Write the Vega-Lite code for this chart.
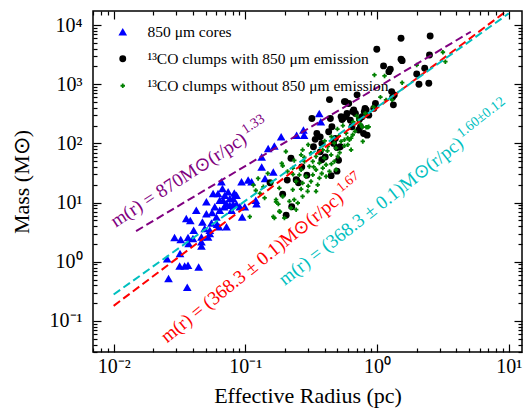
{
"$schema": "https://vega.github.io/schema/vega-lite/v6.json",
"width": 429, "height": 341,
"autosize": {"type": "none"},
"padding": {"left": 93, "top": 11, "right": 2, "bottom": 57},
"config": {"font": "Liberation Serif", "view": {"stroke": "black", "strokeWidth": 1.5}},
"datasets": {
"cores": [[0.0255,1.13],[0.0261,0.52],[0.029,2.57],[0.0323,2.37],[0.0319,1.38],[0.0317,0.85],[0.0346,0.85],[0.0367,0.87],[0.0362,0.37],[0.0356,5.4],[0.0382,5.0],[0.0367,2.57],[0.0371,2.03],[0.040,2.47],[0.0405,3.41],[0.0424,7.4],[0.0442,0.82],[0.0464,1.85],[0.0464,2.63],[0.0472,4.72],[0.0491,3.64],[0.0506,10.3],[0.0506,6.5],[0.0521,2.63],[0.0537,3.41],[0.0553,4.54],[0.0559,6.8],[0.0569,14.2],[0.0586,8.5],[0.0603,5.7],[0.061,4.3],[0.0639,7.4],[0.0639,11.0],[0.0658,22.5],[0.067,17.3],[0.0678,11.0],[0.069,8.5],[0.0698,13.3],[0.0719,3.9],[0.0719,9.6],[0.074,15.2],[0.0762,9.0],[0.0785,7.4],[0.0808,9.4],[0.0857,9.4],[0.0857,13.3],[0.0908,8.5],[0.0935,22.5],[0.0946,5.7],[0.099,8.5],[0.105,24],[0.1115,22.5],[0.12,11.0],[0.1216,9.6],[0.133,40],[0.133,59],[0.141,25.5],[0.149,82],[0.163,33],[0.166,90],[0.187,129],[0.245,138],[0.276,168],[0.279,138],[0.364,320],[0.374,232],[0.062,14.2],[0.063,3.9],[0.0537,3.0],[0.0464,2.17],[0.0762,11.7],[0.0808,11.7],[0.0824,14.5]],
"with": [[0.154,21.6],[0.192,13.9],[0.204,6.1],[0.225,8.5],[0.222,56],[0.208,24],[0.245,24],[0.253,21.6],[0.268,40],[0.293,29],[0.32,264],[0.329,88],[0.339,117],[0.349,147],[0.37,129],[0.37,72],[0.381,100],[0.381,53],[0.404,59],[0.429,157],[0.442,264],[0.454,191],[0.468,100],[0.482,121],[0.496,34],[0.51,52],[0.496,85],[0.526,88],[0.542,254],[0.55,264],[0.574,505],[0.591,320],[0.609,473],[0.627,247],[0.645,191],[0.665,366],[0.685,320],[0.705,661],[0.726,168],[0.748,191],[0.77,282],[0.79,147],[0.81,390],[0.865,300],[0.84,138],[0.944,390],[0.972,473],[0.995,3890],[1.12,2040],[1.26,1790],[1.23,1630],[1.29,750],[1.35,660],[1.31,600],[1.33,448],[1.52,5970],[1.52,2640],[1.55,2500],[2.0,1490],[2.08,1000],[2.30,1860],[2.47,1040],[2.53,6530],[2.50,3120],[0.435,550],[0.565,509],[0.826,369],[0.80,345],[0.735,257],[0.533,284],[0.582,284],[0.653,345],[0.243,24.4],[0.448,28.5]],
"without": [[0.826,188],[0.512,134],[0.582,149],[0.599,123],[0.654,140],[0.617,115],[0.533,108],[0.474,101],[0.565,91],[0.779,108],[0.272,78],[0.387,78],[0.422,89],[0.488,83],[0.635,78],[0.203,73],[0.265,64.2],[0.315,68.5],[0.344,60.2],[0.398,56.4],[0.448,64.2],[0.503,60.2],[0.235,51.5],[0.281,49.6],[0.325,49.6],[0.365,46.5],[0.41,43.6],[0.474,49.6],[0.192,41.9],[0.229,38.3],[0.265,35.9],[0.306,40.8],[0.344,35.9],[0.387,38.3],[0.435,33.6],[0.488,35.9],[0.209,33.6],[0.257,29.5],[0.289,27.7],[0.325,29.5],[0.365,26.0],[0.41,27.7],[0.243,22.8],[0.272,21.4],[0.315,22.8],[0.354,20.0],[0.181,17.6],[0.229,16.5],[0.265,16.9],[0.297,15.5],[0.344,15.5],[0.192,12.7],[0.235,11.2],[0.272,12.7],[0.171,11.2],[0.216,10.5],[0.25,9.84],[0.181,7.11],[0.222,8.1],[0.243,7.59],[0.198,5.49],[0.166,5.49],[0.108,5.77],[0.115,19.7],[0.125,25.6],[0.129,14.3],[0.137,18.5],[0.148,31.1],[0.163,5.77],[0.171,10.3],[0.178,9.43],[0.183,7.0],[0.189,45.8],[0.12,16],[0.158,22],[0.14,12],[0.70,290],[0.77,190],[0.815,320],[0.864,191],[0.94,409],[1.06,605],[1.17,544],[1.30,544],[0.955,1435],[1.14,1380],[1.55,1060],[2.0,2110],[3.16,3470],[3.30,2400],[0.85,188],[0.635,123],[0.565,115],[0.55,200],[0.66,230],[0.72,250],[0.45,130],[0.5,175],[0.4,110],[0.3,95],[0.36,70],[0.42,75],[0.28,58],[0.33,40],[0.38,31],[0.23,30],[0.3,19],[0.45,45],[0.52,70],[0.6,95],[0.68,160],[0.75,210]]
},
"layer": [
{
"data": {"name": "cores"},
"transform": [{"calculate": "datum[0]", "as": "r"}, {"calculate": "datum[1]", "as": "m"}, {"calculate": "'cores'", "as": "t"}],
"mark": {"type": "point", "filled": true, "opacity": 1},
"encoding": {
"x": {"field": "r", "type": "quantitative", "scale": {"type": "log", "domain": [0.00697, 12.6], "nice": false},
 "axis": {"orient": "bottom", "zindex": 1, "grid": false, "domain": false, "ticks": true, "tickColor": "black", "tickWidth": 1.2, "labelColor": "black", "labelFlush": false, "labelOverlap": false,
  "values": [0.007,0.008,0.009,0.01,0.02,0.03,0.04,0.05,0.06,0.07,0.08,0.09,0.1,0.2,0.3,0.4,0.5,0.6,0.7,0.8,0.9,1,2,3,4,5,6,7,8,9,10],
  "labelExpr": "datum.value == 0.01 ? '10⁻²' : datum.value == 0.1 ? '10⁻¹' : datum.value == 1 ? '10⁰' : datum.value == 10 ? '10¹' : ''",
  "tickSize": {"condition": {"test": "indexof([0.01,0.1,1,10], datum.value) >= 0", "value": -8}, "value": -4},
  "labelFontSize": 20, "labelPadding": 12, "labelBaseline": "top",
  "title": "Effective Radius (pc)", "titleFontSize": 22, "titleFontWeight": "normal", "titleColor": "black", "titleX": 214.5, "titleY": 50, "titleBaseline": "alphabetic", "titleAlign": "center"}},
"y": {"field": "m", "type": "quantitative", "scale": {"type": "log", "domain": [0.0299, 17260], "nice": false},
 "axis": {"orient": "left", "zindex": 1, "grid": false, "domain": false, "ticks": true, "tickColor": "black", "tickWidth": 1.2, "labelColor": "black", "labelFlush": false, "labelOverlap": false,
  "values": [0.03,0.04,0.05,0.06,0.07,0.08,0.09,0.1,0.2,0.3,0.4,0.5,0.6,0.7,0.8,0.9,1,2,3,4,5,6,7,8,9,10,20,30,40,50,60,70,80,90,100,200,300,400,500,600,700,800,900,1000,2000,3000,4000,5000,6000,7000,8000,9000,10000],
  "labelExpr": "datum.value == 0.1 ? '10⁻¹' : datum.value == 1 ? '10⁰' : datum.value == 10 ? '10¹' : datum.value == 100 ? '10²' : datum.value == 1000 ? '10³' : datum.value == 10000 ? '10⁴' : ''",
  "tickSize": {"condition": {"test": "indexof([0.1,1,10,100,1000,10000], datum.value) >= 0", "value": -8}, "value": -4},
  "labelFontSize": 20, "labelPadding": 19,
  "title": "Mass (M⊙)", "titleFontSize": 22, "titleFontWeight": "normal", "titleColor": "black", "titleX": -72, "titleY": 170.5, "titleAngle": -90, "titleBaseline": "middle", "titleAlign": "center"}},
"color": {"field": "t", "type": "nominal", "scale": {"domain": ["cores", "with", "without"], "range": ["#0000ff", "#000000", "#008000"]}},
"shape": {"field": "t", "type": "nominal", "scale": {"domain": ["cores", "with", "without"], "range": ["triangle-up", "circle", "cross"]}},
"size": {"field": "t", "type": "nominal", "scale": {"domain": ["cores", "with", "without"], "range": [75, 20, 36]}}
}
},
{
"data": {"name": "with"},
"transform": [{"calculate": "datum[0]", "as": "r"}, {"calculate": "datum[1]", "as": "m"}, {"calculate": "'with'", "as": "t"}],
"mark": {"type": "point", "filled": true, "opacity": 1},
"encoding": {
"x": {"field": "r", "type": "quantitative", "axis": null},
"y": {"field": "m", "type": "quantitative", "axis": null},
"color": {"field": "t", "type": "nominal"},
"shape": {"field": "t", "type": "nominal"},
"size": {"field": "t", "type": "nominal"}
}
},
{
"data": {"name": "without"},
"transform": [{"calculate": "datum[0]", "as": "r"}, {"calculate": "datum[1]", "as": "m"}, {"calculate": "'without'", "as": "t"}],
"mark": {"type": "point", "filled": true, "opacity": 1},
"encoding": {
"x": {"field": "r", "type": "quantitative", "axis": null},
"y": {"field": "m", "type": "quantitative", "axis": null},
"color": {"field": "t", "type": "nominal", "legend": {"orient": "none", "legendX": 22, "legendY": 13, "title": null, "padding": 0, "labelFontSize": 15.5, "labelColor": "black", "labelOffset": 17, "rowPadding": 10, "labelLimit": 0, "symbolOpacity": 1,
  "labelExpr": "datum.label == 'cores' ? '850 μm cores' : datum.label == 'with' ? '¹³CO clumps with 850 μm emission' : '¹³CO clumps without 850 μm emission'"}},
"shape": {"field": "t", "type": "nominal"},
"size": {"field": "t", "type": "nominal"}
}
},
{
"data": {"values": [{"r": 0.0148, "m": 3.3}, {"r": 5.15, "m": 7700}]},
"mark": {"type": "line", "color": "#800080", "strokeWidth": 2, "strokeDash": [8, 4]},
"encoding": {
"x": {"field": "r", "type": "quantitative", "scale": {"type": "log", "domain": [0.00697, 12.6], "nice": false},
 "axis": {"orient": "top", "zindex": 1, "grid": false, "domain": false, "ticks": true, "tickColor": "black", "tickWidth": 1.2, "labels": false, "title": null,
  "values": [0.007,0.008,0.009,0.01,0.02,0.03,0.04,0.05,0.06,0.07,0.08,0.09,0.1,0.2,0.3,0.4,0.5,0.6,0.7,0.8,0.9,1,2,3,4,5,6,7,8,9,10],
  "tickSize": {"condition": {"test": "indexof([0.01,0.1,1,10], datum.value) >= 0", "value": -8}, "value": -4}}},
"y": {"field": "m", "type": "quantitative", "scale": {"type": "log", "domain": [0.0299, 17260], "nice": false},
 "axis": {"orient": "right", "zindex": 1, "grid": false, "domain": false, "ticks": true, "tickColor": "black", "tickWidth": 1.2, "labels": false, "title": null,
  "values": [0.03,0.04,0.05,0.06,0.07,0.08,0.09,0.1,0.2,0.3,0.4,0.5,0.6,0.7,0.8,0.9,1,2,3,4,5,6,7,8,9,10,20,30,40,50,60,70,80,90,100,200,300,400,500,600,700,800,900,1000,2000,3000,4000,5000,6000,7000,8000,9000,10000],
  "tickSize": {"condition": {"test": "indexof([0.1,1,10,100,1000,10000], datum.value) >= 0", "value": -8}, "value": -4}}}
}
},
{
"data": {"values": [{"r": 0.01, "m": 0.18}, {"r": 9.25, "m": 16200}]},
"mark": {"type": "line", "color": "#ff0000", "strokeWidth": 2, "strokeDash": [8, 4]},
"encoding": {"x": {"field": "r", "type": "quantitative", "axis": null}, "y": {"field": "m", "type": "quantitative", "axis": null}}
},
{
"data": {"values": [{"r": 0.01, "m": 0.28}, {"r": 10, "m": 15700}]},
"mark": {"type": "line", "color": "#00bfbf", "strokeWidth": 2, "strokeDash": [8, 4]},
"encoding": {"x": {"field": "r", "type": "quantitative", "axis": null}, "y": {"field": "m", "type": "quantitative", "axis": null}}
},
{
"data": {"values": [{"r": 0.1045, "m": 105.7, "main": "m(r) = 870M⊙(r/pc)", "sup": "1.33"}]},
"layer": [
{"mark": {"type": "text", "align": "right", "baseline": "alphabetic", "angle": -33, "fontSize": 19, "color": "#800080"},
 "encoding": {"x": {"field": "r", "type": "quantitative", "axis": null}, "y": {"field": "m", "type": "quantitative", "axis": null}, "text": {"field": "main"}}},
{"mark": {"type": "text", "align": "left", "baseline": "alphabetic", "angle": -33, "fontSize": 14, "dx": 2, "dy": -8, "color": "#800080"},
 "encoding": {"x": {"field": "r", "type": "quantitative", "axis": null}, "y": {"field": "m", "type": "quantitative", "axis": null}, "text": {"field": "sup"}}}
]
},
{
"data": {"values": [{"r": 0.565, "m": 11.05, "main": "m(r) = (368.3 ± 0.1)M⊙(r/pc)", "sup": "1.67"}]},
"layer": [
{"mark": {"type": "text", "align": "right", "baseline": "alphabetic", "angle": -39, "fontSize": 19, "color": "#ff0000"},
 "encoding": {"x": {"field": "r", "type": "quantitative", "axis": null}, "y": {"field": "m", "type": "quantitative", "axis": null}, "text": {"field": "main"}}},
{"mark": {"type": "text", "align": "left", "baseline": "alphabetic", "angle": -39, "fontSize": 14, "dx": 2, "dy": -8, "color": "#ff0000"},
 "encoding": {"x": {"field": "r", "type": "quantitative", "axis": null}, "y": {"field": "m", "type": "quantitative", "axis": null}, "text": {"field": "sup"}}}
]
},
{
"data": {"values": [{"r": 4.62, "m": 92.2, "main": "m(r) = (368.3 ± 0.1)M⊙(r/pc)", "sup": "1.60±0.12"}]},
"layer": [
{"mark": {"type": "text", "align": "right", "baseline": "alphabetic", "angle": -38, "fontSize": 19, "color": "#00bfbf"},
 "encoding": {"x": {"field": "r", "type": "quantitative", "axis": null}, "y": {"field": "m", "type": "quantitative", "axis": null}, "text": {"field": "main"}}},
{"mark": {"type": "text", "align": "left", "baseline": "alphabetic", "angle": -38, "fontSize": 14, "dx": 2, "dy": -8, "color": "#00bfbf"},
 "encoding": {"x": {"field": "r", "type": "quantitative", "axis": null}, "y": {"field": "m", "type": "quantitative", "axis": null}, "text": {"field": "sup"}}}
]
}
],
"resolve": {"axis": {"x": "independent", "y": "independent"}}
}
